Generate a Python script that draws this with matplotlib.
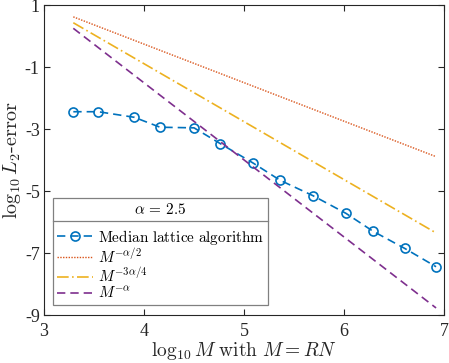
import matplotlib
matplotlib.use("Agg")
import matplotlib.pyplot as plt
from matplotlib.lines import Line2D

plt.rcParams['mathtext.fontset'] = 'cm'
plt.rcParams['font.family'] = ['Liberation Serif', 'DejaVu Serif']

# data
log_M = [3.293, 3.543, 3.903, 4.160, 4.500, 4.763, 5.093, 5.360, 5.690, 6.020, 6.287, 6.607, 6.920]
median_err = [-2.44, -2.44, -2.62, -2.94, -2.96, -3.47, -4.10, -4.65, -5.15, -5.72, -6.29, -6.85, -7.44]
ref_x = [3.293, 6.920]
ref_half = [0.62, -3.89]
ref_three_quarter = [0.43, -6.35]
ref_full = [0.25, -8.77]
x_ticks = [3, 4, 5, 6, 7]
y_ticks = [1, -1, -3, -5, -7, -9]

labels = [r'$\mathrm{Median\ lattice\ algorithm}$', r'$M^{-\alpha/2}$',
          r'$M^{-3\alpha/4}$', r'$M^{-\alpha}$']
colors = ['#0072BD', '#D95319', '#EDB120', '#7E2F8E']

fig = plt.figure(figsize=(4.49, 3.63), dpi=100)
ax = fig.add_axes([0.098, 0.132, 0.891, 0.854])

ax.plot(log_M, median_err, color=colors[0], ls=(0, (5, 3)), lw=1.2,
        marker='o', mfc='none', mec=colors[0], ms=6.5, mew=1.2, label=labels[0])
ax.plot(ref_x, ref_half, color=colors[1], ls=(0, (1, 1)), lw=1.0, label=labels[1])
ax.plot(ref_x, ref_three_quarter, color=colors[2], ls=(0, (7, 2, 1, 2)), lw=1.2, label=labels[2])
ax.plot(ref_x, ref_full, color=colors[3], ls=(0, (5, 3)), lw=1.2, label=labels[3])

ax.set_xlim(3, 7)
ax.set_ylim(-9, 1)
ax.set_xticks(x_ticks)
ax.set_yticks(y_ticks)
ax.set_xticklabels([str(v) for v in x_ticks])
ax.set_yticklabels([str(v) for v in y_ticks])
ax.tick_params(direction='in', top=True, right=True, labelsize=13, length=4,
               color='#262626', labelcolor='#262626')
ax.tick_params(axis='x', pad=6)
ax.tick_params(axis='y', pad=3)
for s in ax.spines.values():
    s.set_color('#262626')
    s.set_linewidth(0.8)

ax.set_xlabel(r'$\log_{10} M\ \mathrm{with}\ M = RN$', fontsize=14, labelpad=0, color='#262626')
ax.set_ylabel(r'$\log_{10} L_2\mathrm{\text{-}error}$', fontsize=14.5, labelpad=1, color='#262626')

leg = ax.legend(loc='lower left', bbox_to_anchor=(0.0225, 0.032), fontsize=11,
                title=r'$\alpha\,=\,2.5$', title_fontsize=11, fancybox=False,
                edgecolor='#808080', framealpha=1, handlelength=2.4, handletextpad=0.3,
                borderaxespad=0, labelspacing=0.05, borderpad=0.25)
leg.get_frame().set_linewidth(0.9)
leg._legend_box.sep = 8

fig.canvas.draw()
bb = leg.get_window_extent()
tb = leg.get_title().get_window_extent()
inv = fig.transFigure.inverted()
ysep = (tb.y0 - 4)
p0 = inv.transform((bb.x0, ysep))
p1 = inv.transform((bb.x1, ysep))
fig.add_artist(Line2D([p0[0], p1[0]], [p0[1], p1[1]], color='#808080', lw=0.9,
                      transform=fig.transFigure, zorder=10))

fig.savefig('out.png', dpi=100)
